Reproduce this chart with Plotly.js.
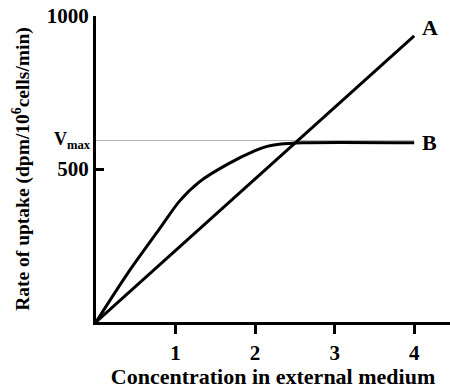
<!DOCTYPE html>
<html>
<head>
<meta charset="utf-8">
<script src="https://cdn.plot.ly/plotly-3.0.1.min.js"></script>
<style>html,body{margin:0;padding:0;background:#fff;}#chart{width:450px;height:389px;}</style>
</head>
<body>
<div id="chart"></div>
<script>
// Line A: passive diffusion (linear)
const concA = [0, 4];
const rateA = [0, 935];
// Line B: carrier-mediated (saturating)
const concB = [0, 0.4, 0.8, 1.05, 1.3, 1.65, 2.0, 2.15, 2.3, 2.6, 4];
const rateB = [0, 160, 305, 395, 458, 515, 560, 574, 581, 586, 586];
const vmax = 593;
const vmaxLineX = [0, 4];
const xTicks = [1, 2, 3, 4];
const yTicks = [500, 1000];
const seriesLabels = ['A', 'B'];

const serif = 'Liberation Serif, Times New Roman, serif';
const traces = [
  {x: vmaxLineX, y: [vmax, vmax], mode: 'lines', line: {color: '#b0b0b0', width: 1}, hoverinfo: 'skip'},
  {x: concA, y: rateA, mode: 'lines', line: {color: '#000', width: 3}, name: seriesLabels[0]},
  {x: concB, y: rateB, mode: 'lines', line: {color: '#000', width: 3, shape: 'spline', smoothing: 0.8}, name: seriesLabels[1]}
];
const layout = {
  width: 450, height: 389,
  margin: {l: 96, r: 0, t: 16, b: 67},
  showlegend: false,
  paper_bgcolor: '#fff', plot_bgcolor: '#fff',
  font: {family: serif, color: '#000', size: 19, weight: 'bold'},
  xaxis: {
    range: [0, 4.45], showgrid: false, zeroline: false,
    showline: true, linecolor: '#000', linewidth: 3,
    ticks: 'outside', ticklen: 9, tickwidth: 3, tickcolor: '#000',
    tickvals: xTicks, ticktext: xTicks.map(String),
    tickfont: {family: serif, size: 21, weight: 'bold'},
    ticklabelstandoff: 1,
    title: {text: 'Concentration in external medium', font: {family: serif, size: 22, weight: 'bold'}, standoff: 0}
  },
  yaxis: {
    range: [0, 1000], showgrid: false, zeroline: false,
    showline: true, linecolor: '#000', linewidth: 3,
    ticks: 'inside', ticklen: 8, tickwidth: 3, tickcolor: '#000',
    tickvals: yTicks, ticktext: yTicks.map(String),
    tickfont: {family: serif, size: 21, weight: 'bold'},
    title: {text: 'Rate of uptake (dpm/10<sup>6</sup>cells/min)', font: {family: serif, size: 19.5, weight: 'bold'}, standoff: 12}
  },
  annotations: [
    {xref: 'x', yref: 'y', x: concA[concA.length - 1], y: rateA[rateA.length - 1], text: seriesLabels[0], showarrow: false, xanchor: 'left', yanchor: 'middle', xshift: 6, yshift: 8, font: {family: serif, size: 22, weight: 'bold'}},
    {xref: 'x', yref: 'y', x: concB[concB.length - 1], y: rateB[rateB.length - 1], text: seriesLabels[1], showarrow: false, xanchor: 'left', yanchor: 'middle', xshift: 6, font: {family: serif, size: 22, weight: 'bold'}},
    {xref: 'paper', yref: 'y', x: 0, y: vmax, text: 'V<sub>max</sub>', showarrow: false, xanchor: 'right', yanchor: 'middle', xshift: -3, font: {family: serif, size: 18, weight: 'bold'}}
  ]
};
Plotly.newPlot('chart', traces, layout, {displayModeBar: false, staticPlot: true});
</script>
</body>
</html>
